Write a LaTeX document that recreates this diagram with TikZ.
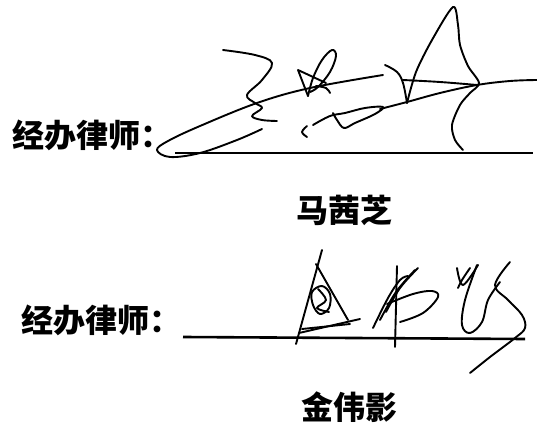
\documentclass[tikz,border=0pt]{standalone}
\usepackage{fontspec}
\newfontfamily\cjk{Noto Sans CJK SC}
\usetikzlibrary{positioning}

\tikzset{
  lbl/.style={inner sep=0pt, font=\cjk\bfseries\fontsize{32}{32}\selectfont},
  sig/.style={line width=1.9pt, line cap=round, line join=round},
  rule/.style={line width=2.6pt}
}

\begin{document}
\begin{tikzpicture}[x=1pt,y=-1pt]
  \useasboundingbox (0,0) rectangle (537,427);
  % first signature block
  \node [lbl, anchor=west] (lawyerA) at (12,135) {经办律师：};
  \coordinate (lineAs) at (175,153);
  \coordinate (lineAe) at (533,153);
  \draw [rule] (lineAs) -- (lineAe);
  \node [lbl] (nameA) at (344,210) {马茜芝};
  % signature strokes
  \draw [sig] plot [smooth, tension=0.6] coordinates {(223,50) (255,55) (272,63) (262,80) (247,95) (255,103) (262,108) (252,116) (262,120) (277,121)};
  \draw [sig] plot [smooth, tension=0.6] coordinates {(262,129) (237,140) (200,153) (170,157) (157,150) (168,141) (200,126) (257,103) (310,88) (383,75)};
  \draw [sig] (308,96) -- (298,70) -- (326,83);
  \draw [sig] plot [smooth, tension=0.6] coordinates {(308,96) (313,78) (322,60) (332,50) (336,56) (330,72) (318,87) (310,92)};
  \draw [sig] plot [smooth, tension=0.6] coordinates {(316,86) (326,88) (330,93)};
  \draw [sig] plot [smooth, tension=0.6] coordinates {(307,126) (302,132) (307,137)};
  \draw [sig] plot [smooth, tension=0.6] coordinates {(313,125) (330,116) (345,113) (365,108) (383,107) (375,114) (355,123) (344,128) (337,120) (333,113)};
  \draw [sig] plot [smooth, tension=0.6] coordinates {(380,109) (407,102) (440,93) (477,85) (510,81) (537,80)};
  \draw [sig] plot [smooth, tension=0.6] coordinates {(385,65) (397,72) (403,83) (407,103)};
  \draw [sig] plot [smooth, tension=0.5] coordinates {(407,103) (416,72) (432,40) (453,7) (458,25) (460,45) (468,66) (479,83) (470,93) (460,105) (452,125) (455,140) (463,150)};
  \draw [sig] plot [smooth, tension=0.6] coordinates {(403,80) (440,82) (477,85)};

  % second signature block
  \node [lbl, anchor=west] (lawyerB) at (21,320) {经办律师：};
  \coordinate (lineBs) at (183,337);
  \coordinate (lineBe) at (525,339);
  \draw [rule] (lineBs) -- (lineBe);
  \node [lbl] (nameB) at (349,407) {金伟影};
  % signature strokes
  \draw [sig] (322,250) -- (296,344);
  \draw [sig] (316,264) -- (348,320);
  \draw [sig] (299,333) -- (360,319);
  \draw [sig] (302,329) -- (350,324);
  \draw [sig] plot [smooth cycle, tension=0.6] coordinates {(312,292) (322,286) (330,294) (329,308) (320,314) (313,305)};
  \draw [sig] plot [smooth, tension=0.6] coordinates {(318,289) (326,300) (317,308) (329,312)};
  \draw [sig] plot [smooth, tension=0.6] coordinates {(373,328) (388,298) (400,280) (408,276)};
  \draw [sig] plot [smooth, tension=0.6] coordinates {(380,320) (396,292) (415,270)};
  \draw [sig] plot [smooth, tension=0.6] coordinates {(386,312) (400,288) (418,268)};
  \draw [sig] (397,266) -- (395,347);
  \draw [sig] plot [smooth, tension=0.6] coordinates {(387,304) (413,294) (432,291) (438,297) (423,313) (400,322)};
  \draw [sig] plot [smooth, tension=0.6] coordinates {(457,268) (463,285) (478,265)};
  \draw [sig] plot [smooth, tension=0.6] coordinates {(470,268) (462,280) (458,288)};
  \draw [sig] plot [smooth, tension=0.6] coordinates {(477,265) (465,300) (462,325) (470,333) (482,322) (488,300) (500,282)};
  \draw [sig] plot [smooth, tension=0.6] coordinates {(510,262) (495,285) (508,300) (522,315) (525,328) (515,338) (490,357) (470,373)};
\end{tikzpicture}
\end{document}
